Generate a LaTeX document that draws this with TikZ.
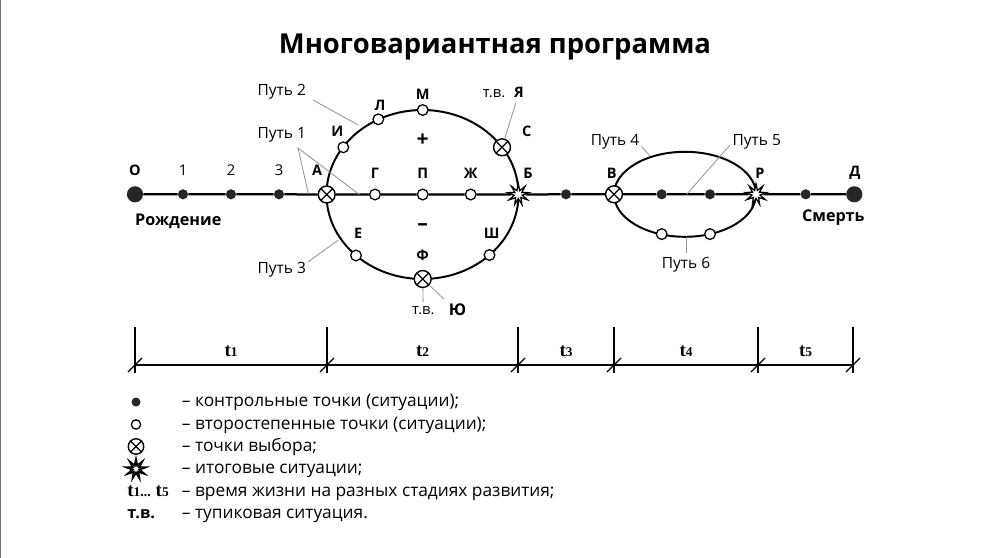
\documentclass[tikz,border=0pt]{standalone}
\usepackage{fontspec}
\setmainfont{Open Sans}
\newfontfamily\timefont{Liberation Serif}
\usetikzlibrary{shapes.geometric}
\definecolor{edgegray}{RGB}{112,112,128}
\definecolor{leadgray}{RGB}{150,150,150}
\newcommand{\stagetime}[1]{{\timefont\bfseries\fontsize{13.5}{15}\selectfont t}{\timefont\bfseries\fontsize{9.5}{11}\selectfont #1}}

\begin{document}
\begin{tikzpicture}[x=0.025cm, y=-0.025cm,
    ctrl/.style={circle,fill=black!85,inner sep=0pt,minimum size=7.2pt},
    term/.style={circle,fill=black!85,inner sep=0pt,minimum size=11.5pt},
    minor/.style={circle,draw,fill=white,line width=0.9pt,inner sep=0pt,minimum size=7.6pt},
    choice/.style={circle,draw,fill=white,line width=1pt,inner sep=0pt,minimum size=12pt,
        path picture={\draw[line width=0.9pt] (path picture bounding box.south west) -- (path picture bounding box.north east)
            (path picture bounding box.north west) -- (path picture bounding box.south east);}},
    final/.style={star,star points=9,star point ratio=2.6,draw,fill=white,line width=0.9pt,inner sep=0pt,minimum size=15pt},
    letter/.style={font=\bfseries\fontsize{10.3}{12}\selectfont},
    digit/.style={font=\fontsize{10.5}{12}\selectfont},
    way/.style={font=\fontsize{11}{13}\selectfont},
    dead/.style={font=\fontsize{10.5}{12}\selectfont},
    lead/.style={draw=leadgray,line width=0.6pt},
    legend/.style={anchor=base west,font=\fontsize{12.3}{14}\selectfont,inner sep=0pt}]

    \useasboundingbox (0,0) rectangle (992,558);
    \draw[edgegray,line width=1pt] (0.6,0) -- (0.6,558);

    \node[font=\bfseries\fontsize{19.5}{22}\selectfont] (title) at (495,47) {Многовариантная программа};

    % the two loops of the path
    \draw[line width=1.4pt] (422.5,194.5) ellipse [x radius=96, y radius=84.5];
    \draw[line width=1.4pt] (685,194.3) ellipse [x radius=71, y radius=42.5];

    % points on the main line
    \node[term] (O) at (135,194.3) {};
    \node[ctrl] (n1) at (183,194.3) {};
    \node[ctrl] (n2) at (231,194.3) {};
    \node[ctrl] (n3) at (279,194.3) {};
    \node[choice] (A) at (326.7,194.5) {};
    \node[minor] (G) at (375,194.5) {};
    \node[minor] (P) at (422.7,194.5) {};
    \node[minor] (Zh) at (470.7,194.5) {};
    \node[final] (B) at (518.3,194.5) {};
    \node[ctrl] (n4) at (566,194.3) {};
    \node[choice] (V) at (614,194.3) {};
    \node[ctrl] (n5) at (661.7,194.3) {};
    \node[ctrl] (n6) at (710,194.3) {};
    \node[final] (R) at (756,194.3) {};
    \node[ctrl] (n7) at (805.7,194.3) {};
    \node[term] (D) at (854.3,194.3) {};

    % points on the loops
    \node[minor] (I) at (343.3,147.3) {};
    \node[minor] (L) at (378.3,119.3) {};
    \node[minor] (M) at (422.7,110) {};
    \node[choice] (S) at (502,147.3) {};
    \node[minor] (E) at (356,255.5) {};
    \node[minor] (Sh) at (489.5,255) {};
    \node[choice] (F) at (422.7,279) {};
    \node[minor] (w1) at (661.7,234.1) {};
    \node[minor] (w2) at (710,234.1) {};

    \draw[line width=1.6pt] (O) -- (n1) -- (n2) -- (n3) -- (A) -- (G) -- (P) -- (Zh) -- (B)
        -- (n4) -- (V) -- (n5) -- (n6) -- (R) -- (n7) -- (D);

    % letters
    \node[letter] (lO) at (135,170) {О};
    \node[digit] (l1) at (183,170) {1};
    \node[digit] (l2) at (231,170) {2};
    \node[digit] (l3) at (279,170) {3};
    \node[letter] (lA) at (317,170) {А};
    \node[letter] (lI) at (337.3,131.7) {И};
    \node[letter] (lL) at (380,105) {Л};
    \node[letter] (lM) at (422.7,94) {М};
    \node[letter] (lS) at (526.7,131.7) {С};
    \node[dead] (tvA) at (494,94) {т.в.};
    \node[letter] (lYa) at (519,92.7) {Я};
    \node[letter] (lG) at (375,173) {Г};
    \node[letter] (lP) at (422.7,173) {П};
    \node[letter] (lZh) at (470.7,173) {Ж};
    \node[letter] (lB) at (528,173) {Б};
    \node[font=\bfseries\fontsize{15}{16}\selectfont] (plus) at (422.7,140) {+};
    \node[font=\bfseries\fontsize{15}{16}\selectfont] (minus) at (422.7,226.7) {–};
    \node[letter] (lE) at (358.3,233.3) {Е};
    \node[letter] (lSh) at (491.7,233.3) {Ш};
    \node[letter] (lF) at (422.7,255) {Ф};
    \node[dead] (tvB) at (423.3,311) {т.в.};
    \node[letter,font=\bfseries\fontsize{11.5}{13}\selectfont] (lYu) at (457.5,310) {Ю};
    \node[letter] (lV) at (611.7,173.3) {В};
    \node[letter] (lR) at (760,173.3) {Р};
    \node[letter] (lD) at (855,173.3) {Д};
    \node[letter,font=\bfseries\fontsize{11.5}{13}\selectfont] (birth) at (178.3,221.7) {Рождение};
    \node[letter,font=\bfseries\fontsize{11.5}{13}\selectfont] (death) at (833.3,217.3) {Смерть};

    % ways
    \node[way] (way1) at (281.7,135) {Путь 1};
    \node[way] (way2) at (281.7,91.7) {Путь 2};
    \node[way] (way3) at (281.7,270) {Путь 3};
    \node[way] (way4) at (615,141.7) {Путь 4};
    \node[way] (way5) at (756.7,141.7) {Путь 5};
    \node[way] (way6) at (686,265) {Путь 6};

    \coordinate (fork1) at (298,148);
    \coordinate (hit1a) at (308.3,193.5);
    \coordinate (hit1b) at (359.3,194.5);
    \coordinate (hit2) at (358.3,125);
    \coordinate (hit3) at (338.3,240);
    \coordinate (hit4) at (650,156);
    \coordinate (hit5) at (686.7,194.3);
    \coordinate (hit6) at (686,236.8);
    \draw[lead] (fork1) -- (hit1a);
    \draw[lead] (fork1) -- (hit1b);
    \draw[lead] (313,100) -- (hit2);
    \draw[lead] (308.3,261.7) -- (hit3);
    \draw[lead] (641.7,146.7) -- (hit4);
    \draw[lead] (730,145) -- (hit5);
    \draw[lead] (hit6) -- (way6);
    \draw[lead] (lYa) -- (S);
    \draw[lead] (F) -- (tvB);
    \draw[lead] (F) -- (lYu.north west);

    % time scale
    \foreach \x/\n in {135/0,327/1,518/2,614/3,758/4,853/5} {
        \coordinate (t\n) at (\x,365);
        \draw[line width=1pt] (\x,326.7) -- (\x,373);
        \draw[line width=0.9pt] (\x-7,372) -- (\x+7,358);
    }
    \draw[line width=1pt] (t0) -- (t5);
    \node (s1) at (231,351) {\stagetime{1}};
    \node (s2) at (422.5,351) {\stagetime{2}};
    \node (s3) at (566,351) {\stagetime{3}};
    \node (s4) at (686,351) {\stagetime{4}};
    \node (s5) at (805.5,351) {\stagetime{5}};

    % legend
    \node[ctrl,minimum size=6.4pt] (k1) at (136,402) {};
    \node[minor,minimum size=6.6pt] (k2) at (136,424.5) {};
    \node[choice,minimum size=11pt] (k3) at (136,446.5) {};
    \node[final,line width=1.4pt,minimum size=13.5pt] (k4) at (136,469) {};
    \node[anchor=base west,inner sep=0pt] (k5) at (127,496) {\stagetime{1}{\timefont\bfseries...} \stagetime{5}};
    \node[anchor=base west,inner sep=0pt,font=\bfseries\fontsize{11.5}{13}\selectfont] (k6) at (127,518.5) {т.в.};
    \node[legend] (d1) at (181.7,406.5) {– контрольные точки (ситуации);};
    \node[legend] (d2) at (181.7,429) {– второстепенные точки (ситуации);};
    \node[legend] (d3) at (181.7,451) {– точки выбора;};
    \node[legend] (d4) at (181.7,473.5) {– итоговые ситуации;};
    \node[legend] (d5) at (181.7,496) {– время жизни на разных стадиях развития;};
    \node[legend] (d6) at (181.7,518.5) {– тупиковая ситуация.};
\end{tikzpicture}
\end{document}
